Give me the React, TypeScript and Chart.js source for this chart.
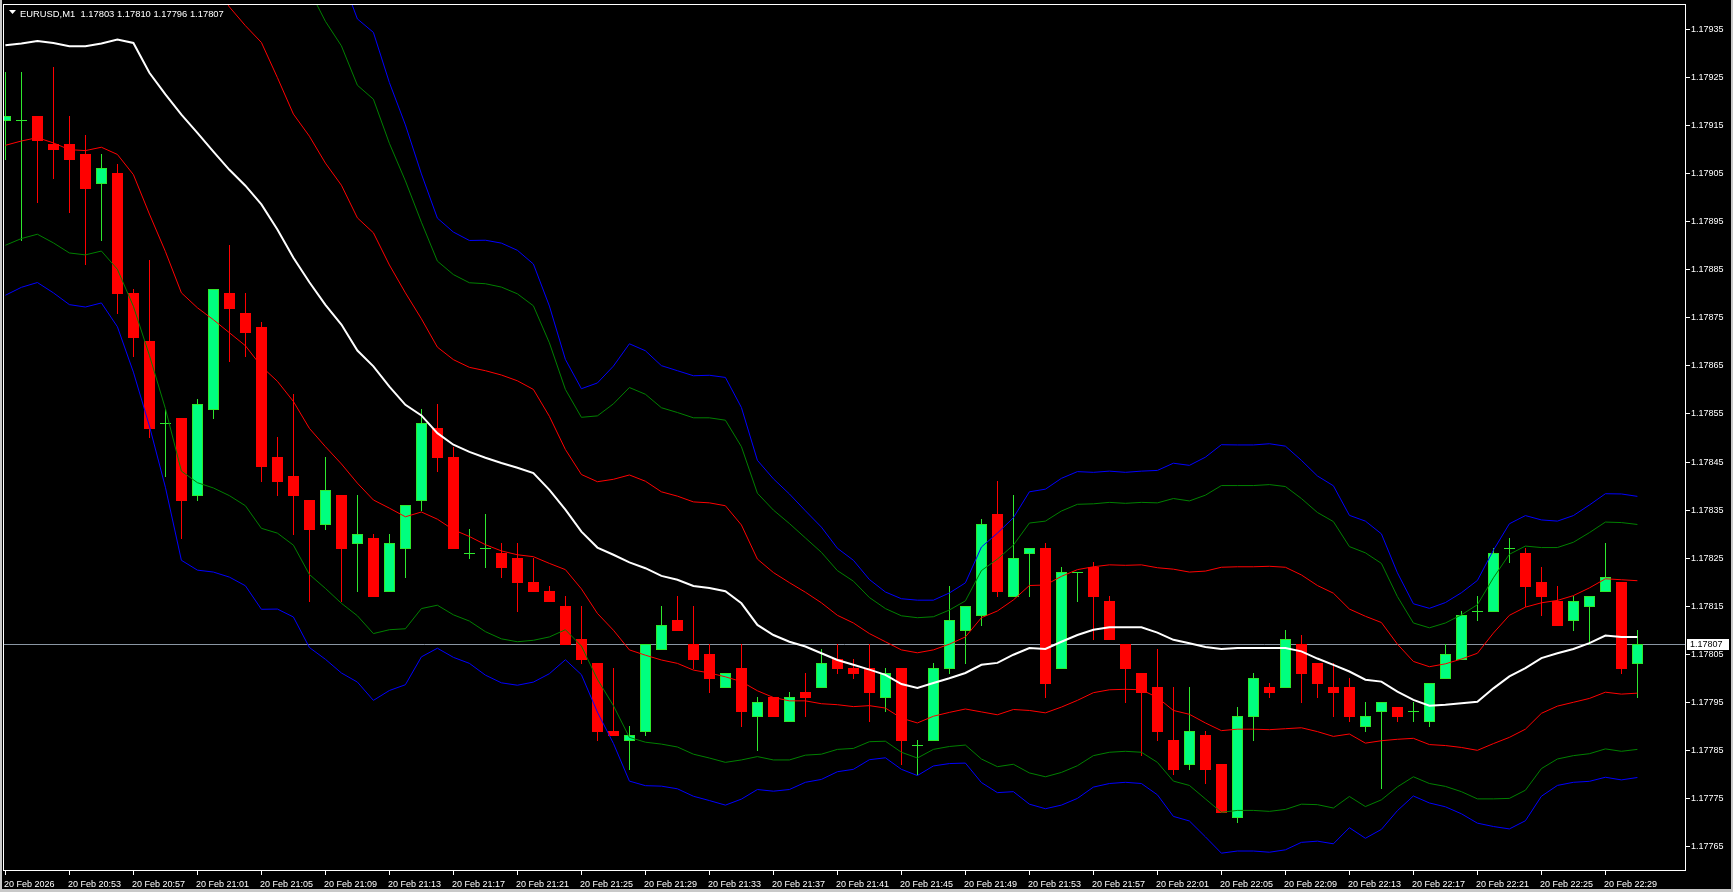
import { useEffect, useRef } from "react";
import { Chart, registerables } from "chart.js";

Chart.register(...registerables);

const W = 1733;
const H = 892;

const symbolTitle = "EURUSD,M1  1.17803 1.17810 1.17796 1.17807";
const lastPrice = 1.17807;

const yTicks = [
  1.17765, 1.17775, 1.17785, 1.17795, 1.17805, 1.17815, 1.17825, 1.17835, 1.17845,
  1.17855, 1.17865, 1.17875, 1.17885, 1.17895, 1.17905, 1.17915, 1.17925, 1.17935,
];

const xTickBars = [0, 4, 8, 12, 16, 20, 24, 28, 32, 36, 40, 44, 48, 52, 56, 60, 64, 68, 72, 76, 80, 84, 88, 92, 96, 100];
const xTickLabels = [
  "20 Feb 2026", "20 Feb 20:53", "20 Feb 20:57", "20 Feb 21:01", "20 Feb 21:05", "20 Feb 21:09",
  "20 Feb 21:13", "20 Feb 21:17", "20 Feb 21:21", "20 Feb 21:25", "20 Feb 21:29", "20 Feb 21:33",
  "20 Feb 21:37", "20 Feb 21:41", "20 Feb 21:45", "20 Feb 21:49", "20 Feb 21:53", "20 Feb 21:57",
  "20 Feb 22:01", "20 Feb 22:05", "20 Feb 22:09", "20 Feb 22:13", "20 Feb 22:17", "20 Feb 22:21",
  "20 Feb 22:25", "20 Feb 22:29",
];

const opens = [
  1.17916, 1.17916, 1.17917, 1.17911, 1.17911, 1.17909, 1.17903, 1.17905, 1.17880, 1.17870,
  1.17853, 1.17854, 1.17838, 1.17856, 1.17880, 1.17876, 1.17873, 1.17846, 1.17842, 1.17837,
  1.17832, 1.17838, 1.17828, 1.17829, 1.17818, 1.17827, 1.17837, 1.17852, 1.17846, 1.17826,
  1.17827, 1.17826, 1.17825, 1.17820, 1.17818, 1.17815, 1.17808, 1.17803, 1.17789, 1.17787,
  1.17789, 1.17806, 1.17812, 1.17807, 1.17805, 1.17798, 1.17802, 1.17792, 1.17796, 1.17791,
  1.17797, 1.17798, 1.17804, 1.17802, 1.17802, 1.17796, 1.17802, 1.17786, 1.17787, 1.17802,
  1.17810, 1.17813, 1.17834, 1.17817, 1.17826, 1.17827, 1.17802, 1.17822, 1.17823, 1.17816,
  1.17807, 1.17801, 1.17798, 1.17787, 1.17782, 1.17788, 1.17782, 1.17771, 1.17792, 1.17798,
  1.17798, 1.17807, 1.17803, 1.17798, 1.17798, 1.17790, 1.17793, 1.17794, 1.17793, 1.17791,
  1.17800, 1.17804, 1.17814, 1.17814, 1.17827, 1.17826, 1.17820, 1.17816, 1.17812, 1.17815,
  1.17818, 1.17820, 1.17803,
];
const highs = [
  1.17926, 1.17926, 1.17917, 1.17927, 1.17917, 1.17913, 1.17909, 1.17907, 1.17881, 1.17887,
  1.17856, 1.17854, 1.17858, 1.17881, 1.17890, 1.17880, 1.17874, 1.17850, 1.17859, 1.17837,
  1.17846, 1.17838, 1.17838, 1.17830, 1.17830, 1.17836, 1.17856, 1.17857, 1.17848, 1.17831,
  1.17834, 1.17828, 1.17828, 1.17825, 1.17819, 1.17817, 1.17815, 1.17803, 1.17802, 1.17790,
  1.17807, 1.17815, 1.17817, 1.17815, 1.17807, 1.17801, 1.17807, 1.17796, 1.17796, 1.17797,
  1.17801, 1.17806, 1.17807, 1.17804, 1.17807, 1.17802, 1.17802, 1.17787, 1.17803, 1.17819,
  1.17815, 1.17833, 1.17841, 1.17838, 1.17827, 1.17828, 1.17823, 1.17822, 1.17824, 1.17817,
  1.17807, 1.17801, 1.17806, 1.17798, 1.17798, 1.17789, 1.17782, 1.17794, 1.17801, 1.17799,
  1.17810, 1.17809, 1.17803, 1.17803, 1.17800, 1.17795, 1.17795, 1.17794, 1.17795, 1.17799,
  1.17807, 1.17814, 1.17817, 1.17827, 1.17829, 1.17827, 1.17823, 1.17819, 1.17817, 1.17817,
  1.17828, 1.17820, 1.17810,
];
const lows = [
  1.17908, 1.17891, 1.17899, 1.17904, 1.17897, 1.17886, 1.17891, 1.17876, 1.17867, 1.17850,
  1.17842, 1.17829, 1.17837, 1.17854, 1.17866, 1.17867, 1.17841, 1.17838, 1.17830, 1.17816,
  1.17831, 1.17816, 1.17818, 1.17817, 1.17818, 1.17821, 1.17835, 1.17843, 1.17827, 1.17825,
  1.17823, 1.17821, 1.17814, 1.17818, 1.17816, 1.17807, 1.17803, 1.17787, 1.17788, 1.17781,
  1.17788, 1.17806, 1.17810, 1.17802, 1.17797, 1.17798, 1.17790, 1.17785, 1.17792, 1.17791,
  1.17792, 1.17798, 1.17801, 1.17800, 1.17791, 1.17793, 1.17782, 1.17780, 1.17787, 1.17801,
  1.17803, 1.17811, 1.17817, 1.17817, 1.17817, 1.17796, 1.17802, 1.17816, 1.17808, 1.17808,
  1.17795, 1.17784, 1.17787, 1.17780, 1.17781, 1.17778, 1.17772, 1.17770, 1.17787, 1.17796,
  1.17798, 1.17795, 1.17796, 1.17792, 1.17791, 1.17789, 1.17777, 1.17791, 1.17791, 1.17790,
  1.17800, 1.17804, 1.17812, 1.17814, 1.17824, 1.17815, 1.17813, 1.17811, 1.17810, 1.17807,
  1.17818, 1.17801, 1.17796,
];
const closes = [
  1.17917, 1.17916, 1.17912, 1.17910, 1.17908, 1.17902, 1.17906, 1.17880, 1.17871, 1.17852,
  1.17853, 1.17837, 1.17857, 1.17881, 1.17877, 1.17872, 1.17844, 1.17841, 1.17838, 1.17831,
  1.17839, 1.17827, 1.17830, 1.17817, 1.17828, 1.17836, 1.17853, 1.17846, 1.17827, 1.17826,
  1.17827, 1.17823, 1.17820, 1.17818, 1.17816, 1.17807, 1.17804, 1.17789, 1.17788, 1.17788,
  1.17807, 1.17811, 1.17810, 1.17804, 1.17800, 1.17801, 1.17793, 1.17795, 1.17792, 1.17796,
  1.17796, 1.17803, 1.17802, 1.17801, 1.17797, 1.17801, 1.17787, 1.17786, 1.17802, 1.17812,
  1.17815, 1.17832, 1.17818, 1.17825, 1.17827, 1.17799, 1.17822, 1.17822, 1.17817, 1.17808,
  1.17802, 1.17797, 1.17789, 1.17781, 1.17789, 1.17781, 1.17772, 1.17792, 1.17800, 1.17797,
  1.17808, 1.17801, 1.17799, 1.17797, 1.17792, 1.17792, 1.17795, 1.17792, 1.17793, 1.17799,
  1.17805, 1.17813, 1.17814, 1.17826, 1.17827, 1.17819, 1.17817, 1.17811, 1.17816, 1.17817,
  1.17821, 1.17802, 1.17807,
];

// white middle line
const middleLine = [
  1.179316, 1.17932, 1.179325, 1.179321, 1.179314, 1.179314, 1.17932, 1.179328, 1.179321, 1.179259,
  1.179214, 1.179172, 1.179134, 1.179095, 1.179057, 1.179024, 1.178985, 1.178933, 1.178874, 1.178823,
  1.178776, 1.178735, 1.178681, 1.178648, 1.178606, 1.178568, 1.178546, 1.178509, 1.178485, 1.17847,
  1.178458, 1.178447, 1.178437, 1.178426, 1.178391, 1.17835, 1.178304, 1.178271, 1.178256, 1.17824,
  1.178228, 1.178212, 1.178204, 1.178191, 1.178187, 1.17818, 1.178155, 1.17811, 1.178089, 1.178075,
  1.178065, 1.178051, 1.178037, 1.178027, 1.178017, 1.178006, 1.177987, 1.177979, 1.177989, 1.177999,
  1.17801, 1.178027, 1.178031, 1.178048, 1.178062, 1.17806, 1.178075, 1.178089, 1.1781, 1.178105,
  1.178105, 1.178105, 1.178094, 1.178079, 1.178072, 1.178064, 1.17806, 1.178062, 1.178062, 1.178062,
  1.178062, 1.178055, 1.17804, 1.178027, 1.178013, 1.177996, 1.177992, 1.177971, 1.177954, 1.177942,
  1.177944, 1.177947, 1.17795, 1.177978, 1.178003, 1.17802, 1.178041, 1.178051, 1.17806, 1.178072,
  1.178088, 1.178085, 1.178085,
];

// band half-width (one deviation)
const deviation = [
  0.000208, 0.000203, 0.000201, 0.000208, 0.000215, 0.000217, 0.000216, 0.000239, 0.000274, 0.000294,
  0.000327, 0.000371, 0.000364, 0.00035, 0.000339, 0.000333, 0.000337, 0.000316, 0.000299, 0.000304,
  0.000295, 0.00029, 0.000276, 0.000278, 0.000253, 0.000233, 0.000201, 0.000179, 0.000177, 0.000176,
  0.000181, 0.000183, 0.000181, 0.000174, 0.000153, 0.000125, 0.000119, 0.000137, 0.000157, 0.000182,
  0.000181, 0.000175, 0.000174, 0.000175, 0.000177, 0.000178, 0.000163, 0.000137, 0.00013, 0.000123,
  0.000113, 0.000105, 0.000093, 0.000087, 0.000075, 0.000069, 0.000071, 0.000073, 0.000069, 0.000071,
  0.000075, 0.000098, 0.000108, 0.000114, 0.00013, 0.000133, 0.000136, 0.000136, 0.000131, 0.00013,
  0.000129, 0.00013, 0.000135, 0.000147, 0.000148, 0.000158, 0.00017, 0.000169, 0.000169, 0.00017,
  0.000168, 0.000159, 0.000152, 0.000149, 0.00013, 0.000132, 0.000123, 0.000099, 0.00008, 0.000081,
  0.000085, 0.000092, 0.000101, 0.000115, 0.000127, 0.000127, 0.000115, 0.00011, 0.000111, 0.000115,
  0.000118, 0.000119, 0.000117,
];

const bandSets = [
  { name: "Blue band", mult: 2.5, color: "#0000ff" },
  { name: "Green band", mult: 2.0, color: "#008000" },
  { name: "Red band", mult: 1.0, color: "#ff0000" },
];

const BULL_FILL = "#00ff7f";
const BULL_EDGE = "#2ee82e";
const BEAR = "#ff0000";
const FONT = '9px "Liberation Sans", Arial, sans-serif';

const mtPlugin = {
  id: "mt4look",
  beforeDraw(chart: any) {
    const ctx = chart.ctx;
    ctx.save();
    ctx.fillStyle = "#000";
    ctx.fillRect(0, 0, W, H);
    ctx.restore();
  },
  beforeDatasetsDraw(chart: any) {
    const ctx = chart.ctx;
    const a = chart.chartArea;
    const xs = chart.scales.x;
    const ys = chart.scales.y;
    ctx.save();
    ctx.beginPath();
    ctx.rect(a.left, a.top, a.right - a.left, a.bottom - a.top);
    ctx.clip();
    // bid line
    const py = Math.round(ys.getPixelForValue(lastPrice)) + 0.5;
    ctx.strokeStyle = "#8a96a3";
    ctx.lineWidth = 1;
    ctx.beginPath();
    ctx.moveTo(a.left, py);
    ctx.lineTo(a.right, py);
    ctx.stroke();
    for (let i = 0; i < opens.length; i++) {
      const cx = Math.round(xs.getPixelForValue(i));
      const yo = Math.round(ys.getPixelForValue(opens[i]));
      const yc = Math.round(ys.getPixelForValue(closes[i]));
      const yh = Math.round(ys.getPixelForValue(highs[i]));
      const yl = Math.round(ys.getPixelForValue(lows[i]));
      const bull = closes[i] > opens[i];
      const doji = closes[i] === opens[i];
      ctx.fillStyle = bull || doji ? BULL_EDGE : BEAR;
      ctx.fillRect(cx, yh, 1, yl - yh + 1);
      if (doji) {
        ctx.fillRect(cx - 5, yo, 11, 1);
        continue;
      }
      const top = Math.min(yo, yc);
      const h = Math.abs(yo - yc);
      if (bull) {
        ctx.fillStyle = BULL_FILL;
        ctx.fillRect(cx - 5, top, 11, h + 1);
        ctx.strokeStyle = BULL_EDGE;
        ctx.strokeRect(cx - 4.5, top + 0.5, 10, h);
      } else {
        ctx.fillStyle = BEAR;
        ctx.fillRect(cx - 5, top, 11, h + 1);
      }
    }
    ctx.restore();
  },
  afterDraw(chart: any) {
    const ctx = chart.ctx;
    const a = chart.chartArea;
    const xs = chart.scales.x;
    const ys = chart.scales.y;
    ctx.save();
    // plot frame
    ctx.strokeStyle = "#ffffff";
    ctx.lineWidth = 1;
    ctx.strokeRect(a.left - 0.5, a.top - 0.5, a.right - a.left + 1, a.bottom - a.top + 1);
    ctx.font = FONT;
    ctx.fillStyle = "#ffffff";
    // price axis
    ctx.textAlign = "left";
    ctx.textBaseline = "middle";
    for (const v of yTicks) {
      const y = Math.round(ys.getPixelForValue(v)) + 0.5;
      ctx.beginPath();
      ctx.moveTo(a.right + 1, y);
      ctx.lineTo(a.right + 5, y);
      ctx.stroke();
      ctx.fillText(v.toFixed(5), a.right + 6, y);
    }
    // time axis
    ctx.textBaseline = "alphabetic";
    xTickBars.forEach((b, k) => {
      const x = Math.round(xs.getPixelForValue(b)) + 0.5;
      ctx.beginPath();
      ctx.moveTo(x, a.bottom + 1);
      ctx.lineTo(x, a.bottom + 5);
      ctx.stroke();
      ctx.fillText(xTickLabels[k], x - 1.5, a.bottom + 17);
    });
    // current price box
    const py = Math.round(ys.getPixelForValue(lastPrice));
    ctx.fillStyle = "#ffffff";
    ctx.fillRect(a.right + 2, py - 5, 42, 11);
    ctx.fillStyle = "#000000";
    ctx.textBaseline = "middle";
    ctx.fillText(lastPrice.toFixed(5), a.right + 5, py + 0.5);
    // header
    ctx.fillStyle = "#ffffff";
    ctx.beginPath();
    ctx.moveTo(9, 10);
    ctx.lineTo(16, 10);
    ctx.lineTo(12.5, 14);
    ctx.closePath();
    ctx.fill();
    ctx.font = '9.4px "Liberation Sans", Arial, sans-serif';
    ctx.textBaseline = "alphabetic";
    ctx.fillText(symbolTitle, 20, 16.5);
    // window frame
    ctx.fillStyle = "#c8c8c8";
    ctx.fillRect(0, 0, 2, H);
    ctx.fillRect(W - 2, 0, 2, H);
    ctx.fillRect(0, H - 3, W, 3);
    ctx.restore();
  },
};

export default function App() {
  const ref = useRef<HTMLCanvasElement>(null);
  useEffect(() => {
    document.body.style.margin = "0";
    document.body.style.background = "#000";
    const canvas = ref.current;
    if (!canvas) return;
    const datasets: any[] = [];
    bandSets.forEach((b) => {
      datasets.push({
        label: b.name + " upper",
        data: middleLine.map((m, i) => ({ x: i, y: m + b.mult * deviation[i] })),
        borderColor: b.color,
        borderWidth: 1,
        pointRadius: 0,
        tension: 0,
        fill: false,
      });
      datasets.push({
        label: b.name + " lower",
        data: middleLine.map((m, i) => ({ x: i, y: m - b.mult * deviation[i] })),
        borderColor: b.color,
        borderWidth: 1,
        pointRadius: 0,
        tension: 0,
        fill: false,
      });
    });
    datasets.push({
      label: "Middle",
      data: middleLine.map((m, i) => ({ x: i, y: m })),
      borderColor: "#ffffff",
      borderWidth: 2,
      pointRadius: 0,
      tension: 0,
      fill: false,
    });
    const chart = new Chart(canvas, {
      type: "line",
      data: { datasets },
      options: {
        animation: false,
        responsive: false,
        devicePixelRatio: 1,
        events: [],
        layout: { padding: { left: 4, top: 5, right: 48, bottom: 22 } },
        scales: {
          x: { type: "linear", min: -0.0875, max: 104.975, display: false },
          y: { type: "linear", min: 1.1776, max: 1.1794, display: false },
        },
        plugins: { legend: { display: false }, tooltip: { enabled: false } },
      },
      plugins: [mtPlugin],
    } as any);
    return () => chart.destroy();
  }, []);
  return <canvas ref={ref} width={W} height={H} style={{ display: "block", width: W, height: H }} />;
}
